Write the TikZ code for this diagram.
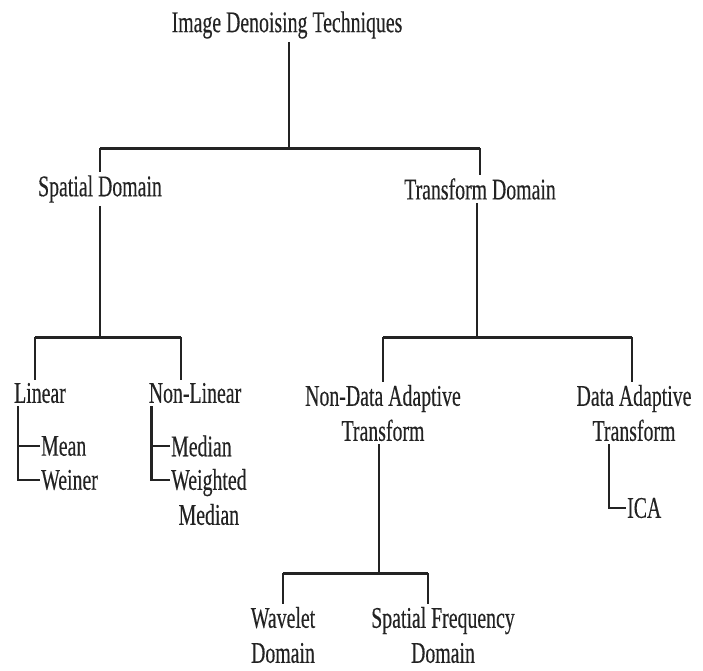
\documentclass[tikz,border=0pt]{standalone}
\usepackage{fontspec}
\setmainfont[FakeStretch=0.66,FakeBold=0.3]{Liberation Serif}
\usetikzlibrary{positioning}
\definecolor{InkGray}{RGB}{35,35,35}
\tikzset{
  link/.style={draw=InkGray,line width=2.4pt},
  bar/.style={draw=InkGray,line width=3pt},
  label/.style={text=InkGray,inner sep=3pt,align=center,
    font=\fontsize{30}{35}\selectfont},
  leaf/.style={text=InkGray,inner sep=1pt,align=left,anchor=west,
    font=\fontsize{30}{35}\selectfont}
}
\begin{document}
\begin{tikzpicture}[x=1pt,y=-1pt]
  \useasboundingbox (0,0) rectangle (703,670);
  % level 0 and 1
  \node[label] (root) at (287,25) {Image Denoising Techniques};
  \node[label] (spatial) at (100,189) {Spatial Domain};
  \node[label] (transform) at (480,189) {Transform Domain};
  \coordinate (rootbar) at (289,148);
  \draw[link] (root.south -| rootbar) -- (rootbar);
  \draw[bar] (spatial.north |- rootbar) -- (transform.north |- rootbar);
  \draw[link] (spatial.north |- rootbar) -- (spatial.north);
  \draw[link] (transform.north |- rootbar) -- (transform.north);
  % spatial domain
  \node[label] (linear) at (40,393) {Linear};
  \node[label] (nonlinear) at (195,393) {Non-Linear};
  \coordinate (spatbar) at (100,337);
  \draw[link] (spatial.south) -- (spatbar);
  \draw[bar] ([xshift=-5pt]linear.north |- spatbar) -- ([xshift=-14pt]nonlinear.north |- spatbar);
  \draw[link] ([xshift=-5pt]linear.north |- spatbar) -- ([xshift=-5pt]linear.north);
  \draw[link] ([xshift=-14pt]nonlinear.north |- spatbar) -- ([xshift=-14pt]nonlinear.north);
  \node[leaf] (mean) at (40,446) {Mean};
  \node[leaf] (weiner) at (40,480) {Weiner};
  \node[leaf,align=center] (weighted) at (170,497) {Weighted\\Median};
  \node[leaf] (median) at (170,446) {Median};
  \draw[link] ([xshift=7pt]linear.south west) |- (weiner.west);
  \draw[link] ([xshift=7pt]linear.south west |- mean.west) -- (mean.west);
  \draw[link] ([xshift=6pt]nonlinear.south west) |- ([yshift=17pt]weighted.west);
  \draw[link] ([xshift=6pt]nonlinear.south west |- median.west) -- (median.west);
  % transform domain
  \node[label] (nondata) at (383,413) {Non-Data Adaptive\\Transform};
  \node[label] (dataad) at (634,413) {Data Adaptive\\Transform};
  \coordinate (transbar) at (477,337);
  \draw[link] ([xshift=-3pt]transform.south) -- (transbar);
  \draw[bar] (nondata.north |- transbar) -- ([xshift=-2pt]dataad.north |- transbar);
  \draw[link] (nondata.north |- transbar) -- (nondata.north);
  \draw[link] ([xshift=-2pt]dataad.north |- transbar) -- ([xshift=-2pt]dataad.north);
  \node[leaf] (ica) at (626,508) {ICA};
  \draw[link] ([xshift=-25pt]dataad.south) |- (ica.west);
  % non-data adaptive transform
  \node[label] (wavelet) at (283,635) {Wavelet\\Domain};
  \node[label] (spatfreq) at (443,635) {Spatial Frequency\\Domain};
  \coordinate (ndbar) at (379,573);
  \draw[link] ([xshift=-4pt]nondata.south) -- (ndbar);
  \draw[bar] (wavelet.north |- ndbar) -- ([xshift=-15pt]spatfreq.north |- ndbar);
  \draw[link] (wavelet.north |- ndbar) -- (wavelet.north);
  \draw[link] ([xshift=-15pt]spatfreq.north |- ndbar) -- ([xshift=-15pt]spatfreq.north);
\end{tikzpicture}
\end{document}
